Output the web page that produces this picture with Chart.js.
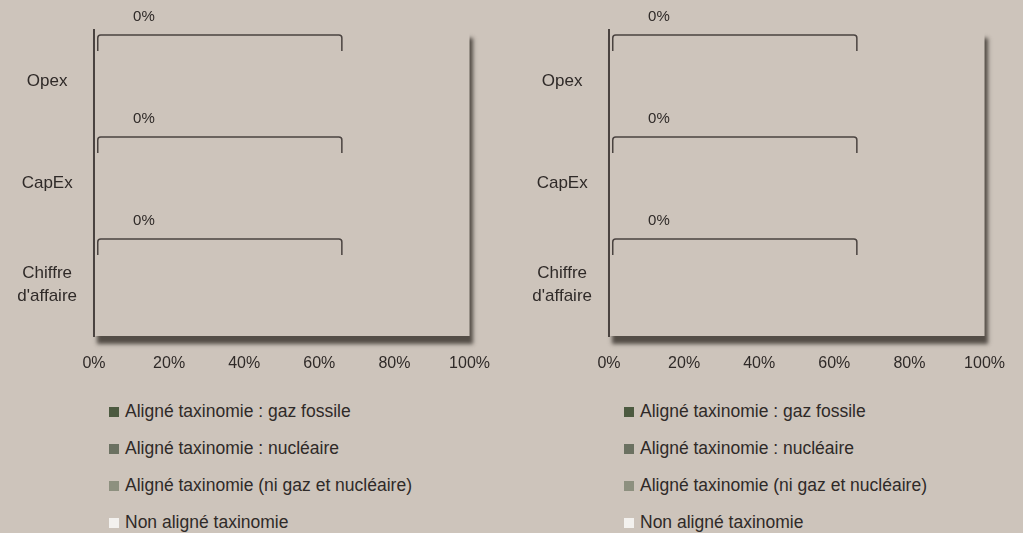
<!DOCTYPE html>
<html>
<head>
<meta charset="utf-8">
<script src="https://cdn.jsdelivr.net/npm/chart.js@4.4.1/dist/chart.umd.min.js"></script>
<style>
  body { margin: 0; background: #cdc4bb; width: 1023px; height: 533px; overflow: hidden;
         font-family: "Liberation Sans", Arial, sans-serif; color: #2f2a28; }
  .panel { position: absolute; top: 0; width: 508px; height: 533px; }
  .panel canvas { position: absolute; left: 0; top: -10px; }
  .legend { position: absolute; top: 393px; left: 109px; list-style: none; margin: 0; padding: 0; font-size: 17.5px; }
  .legend li { height: 37px; display: flex; align-items: center; white-space: nowrap; }
  .legend span { display: inline-block; width: 10px; height: 10px; margin-right: 6px; }
</style>
</head>
<body>
<div class="panel" style="left:0"><canvas id="chart1" width="508" height="390"></canvas><ul class="legend" id="legend1"></ul></div>
<div class="panel" style="left:515px"><canvas id="chart2" width="508" height="390"></canvas><ul class="legend" id="legend2"></ul></div>

<script>
// categories (top to bottom)
const categories = ["Opex", "CapEx", ["Chiffre", "d'affaire"]];

// series names and colours
const seriesNames = [
  "Aligné taxinomie : gaz fossile",
  "Aligné taxinomie : nucléaire",
  "Aligné taxinomie (ni gaz et nucléaire)",
  "Non aligné taxinomie"
];
const seriesColors = ["#4c5a40", "#6b7161", "#8d907f", "#f3f1ee"];

// left chart values (%), one per category
const leftGaz = [0, 0, 0];
const leftNucleaire = [0, 0, 0];
const leftAutres = [0, 0, 0];
const leftNonAligne = [0, 0, 0];

// right chart values (%)
const rightGaz = [0, 0, 0];
const rightNucleaire = [0, 0, 0];
const rightAutres = [0, 0, 0];
const rightNonAligne = [0, 0, 0];

// bracket span on the x axis (%)
const bracketFrom = [1, 1, 1];
const bracketTo = [66, 66, 66];
const xTicks = [0, 20, 40, 60, 80, 100];

const BG = "#cdc4bb";
const INK = "#2f2a28";
const LINE = "#4a4340";
const FONT = "'Liberation Sans', Arial, sans-serif";

// plot area with a soft drop shadow
const shadowPlugin = {
  id: "plotShadow",
  beforeDraw(chart) {
    const { ctx, chartArea: a } = chart;
    ctx.save();
    ctx.shadowColor = "rgba(70,64,58,0.9)";
    ctx.shadowBlur = 4;
    ctx.shadowOffsetX = 3;
    ctx.shadowOffsetY = 8;
    ctx.fillStyle = BG;
    ctx.fillRect(a.left, a.top, a.right - a.left, a.bottom - a.top);
    ctx.restore();
  }
};

// bracket above each category with the aligned total
const bracketPlugin = {
  id: "brackets",
  afterDatasetsDraw(chart) {
    const { ctx, scales: { x, y } } = chart;
    const band = (y.bottom - y.top) / categories.length;
    ctx.save();
    ctx.strokeStyle = LINE;
    ctx.lineWidth = 1.5;
    categories.forEach((c, i) => {
      const yy = y.getPixelForValue(i) - band * 0.45;
      const x1 = x.getPixelForValue(bracketFrom[i]);
      const x2 = x.getPixelForValue(bracketTo[i]);
      ctx.beginPath();
      ctx.moveTo(x1, yy + 16);
      ctx.lineTo(x1, yy + 3);
      ctx.quadraticCurveTo(x1, yy, x1 + 3, yy);
      ctx.lineTo(x2 - 3, yy);
      ctx.quadraticCurveTo(x2, yy, x2, yy + 3);
      ctx.lineTo(x2, yy + 16);
      ctx.stroke();
      let total = 0;
      chart.data.datasets.slice(0, 3).forEach(d => { total += d.data[i]; });
      ctx.fillStyle = INK;
      ctx.font = "15px " + FONT;
      ctx.textAlign = "center";
      ctx.textBaseline = "middle";
      ctx.fillText(total + "%", x.getPixelForValue(13.3), yy - 18);
    });
    ctx.restore();
  }
};

function makeChart(id, legendId, values) {
  const datasets = seriesNames.map((name, k) => ({
    label: name,
    data: values[k],
    backgroundColor: seriesColors[k],
    barPercentage: 0.6,
    categoryPercentage: 1
  }));

  new Chart(document.getElementById(id), {
    type: "bar",
    data: { labels: categories, datasets: datasets },
    plugins: [shadowPlugin, bracketPlugin],
    options: {
      indexAxis: "y",
      responsive: false,
      devicePixelRatio: 1,
      animation: false,
      layout: { padding: { top: 18, right: 35, left: 0, bottom: 0 } },
      plugins: { legend: { display: false }, tooltip: { enabled: false } },
      scales: {
        x: {
          stacked: true,
          min: 0,
          max: 100,
          afterBuildTicks: (s) => { s.ticks = xTicks.map(v => ({ value: v })); },
          afterFit: (s) => { s.height = 44; },
          grid: { display: false, drawTicks: false },
          border: { display: false },
          ticks: {
            padding: 18,
            color: INK,
            font: { family: FONT, size: 16 },
            callback: (v) => v + "%"
          }
        },
        y: {
          stacked: true,
          afterFit: (s) => { s.width = 94; },
          grid: { display: false, drawTicks: false },
          border: { display: true, color: LINE, width: 2 },
          ticks: {
            padding: 17,
            crossAlign: "center",
            color: INK,
            font: { family: FONT, size: 17, lineHeight: 1.35 }
          }
        }
      }
    }
  });

  const ul = document.getElementById(legendId);
  seriesNames.forEach((name, k) => {
    const li = document.createElement("li");
    li.innerHTML = '<span style="background:' + seriesColors[k] + '"></span>' + name;
    ul.appendChild(li);
  });
}

makeChart("chart1", "legend1", [leftGaz, leftNucleaire, leftAutres, leftNonAligne]);
makeChart("chart2", "legend2", [rightGaz, rightNucleaire, rightAutres, rightNonAligne]);
</script>
</body>
</html>
